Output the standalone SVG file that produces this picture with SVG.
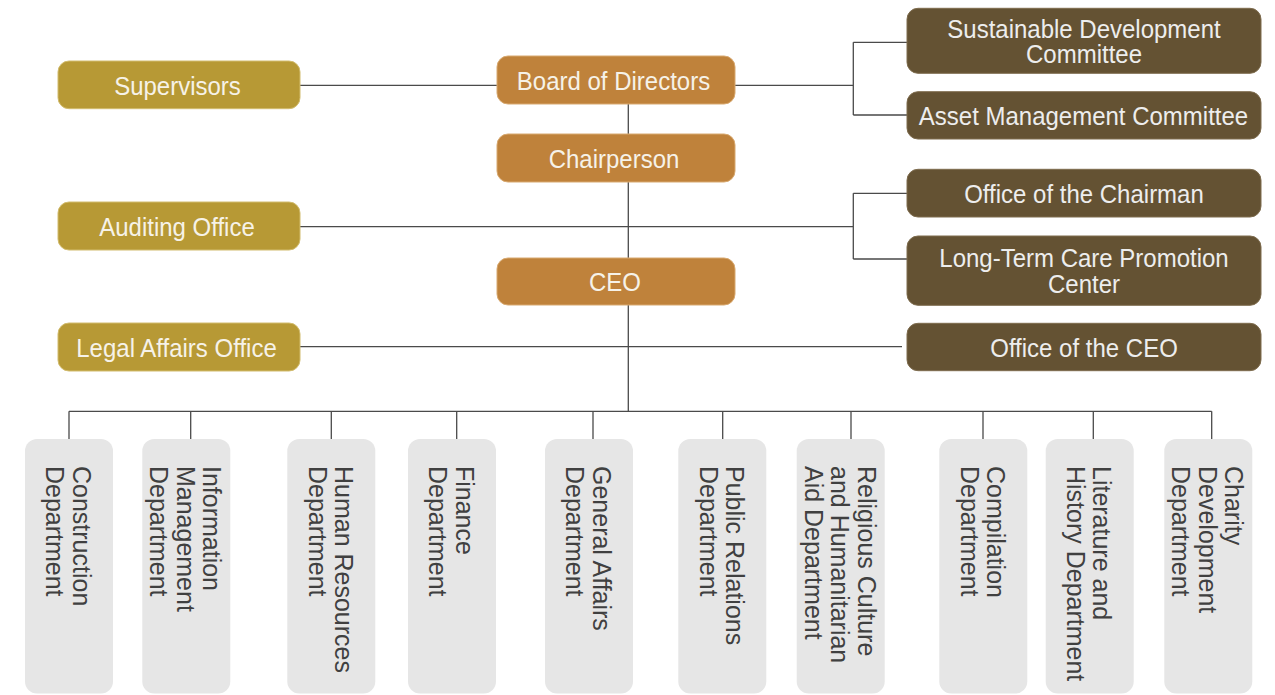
<svg xmlns="http://www.w3.org/2000/svg" width="1275" height="695" viewBox="0 0 1275 695">
<style>
.gold{fill:#B79935;stroke:#D2BC6E;stroke-width:1}
.orange{fill:#BF823B;stroke:#D8A970;stroke-width:1}
.brown{fill:#645233;stroke:#7E6C4E;stroke-width:1}
.dept{fill:#E6E6E6}
.t{font-family:"Liberation Sans",Arial,sans-serif;font-size:24px;fill:#F6F2E8;text-anchor:middle}
.tr{fill:#EDEDED}
.d{font-family:"Liberation Sans",Arial,sans-serif;font-size:25px;fill:#404040}
.c{fill:none;stroke:#4A4A4A;stroke-width:1.3}
</style>
<rect width="1275" height="695" fill="#FFFFFF"/>
<g id="connectors">
<path class="c" d="M300,85.3H497M735,85.3H853.3M853.3,42.3V115M853.3,42.3H907M853.3,115H907"/>
<path class="c" d="M628.3,104V134M628.3,182V258M628.3,305V411.3"/>
<path class="c" d="M300,226.7H853.3M853.3,193.3V259M853.3,193.3H907M853.3,259H907"/>
<path class="c" d="M300,346.7H902"/>
<path class="c" d="M69,411.3H1211.7M69,411.3V439M190.7,411.3V439M331.3,411.3V439M456.7,411.3V439M593,411.3V439M722.7,411.3V439M851,411.3V439M983,411.3V439M1093.3,411.3V439M1211.7,411.3V439"/>
</g>
<g id="supervisors"><rect class="gold" x="58" y="61" width="242" height="47.7" rx="11"/><text class="t" transform="translate(177.5,95) scale(1,1.1)">Supervisors</text></g>
<g id="auditing-office"><rect class="gold" x="58" y="202" width="242" height="48" rx="11"/><text class="t" transform="translate(177,236) scale(1,1.1)">Auditing Office</text></g>
<g id="legal-affairs-office"><rect class="gold" x="58" y="323" width="242" height="48" rx="11"/><text class="t" transform="translate(176.5,357) scale(1,1.1)">Legal Affairs Office</text></g>
<g id="board-of-directors"><rect class="orange" x="497" y="56" width="238" height="48" rx="11"/><text class="t" transform="translate(613.5,90) scale(1,1.1)">Board of Directors</text></g>
<g id="chairperson"><rect class="orange" x="497" y="134" width="238" height="48" rx="11"/><text class="t" transform="translate(614,168) scale(1,1.1)">Chairperson</text></g>
<g id="ceo"><rect class="orange" x="497" y="258" width="238" height="47" rx="11"/><text class="t" transform="translate(615,291) scale(1,1.1)">CEO</text></g>
<g id="sustainable-development-committee"><rect class="brown" x="907" y="8.3" width="354" height="65" rx="11"/><text class="t tr" transform="translate(1084,37.5) scale(1,1.06)"><tspan x="0" y="0">Sustainable Development</tspan><tspan x="0" dy="24.15">Committee</tspan></text></g>
<g id="asset-management-committee"><rect class="brown" x="907" y="91.7" width="354" height="47.3" rx="11"/><text class="t tr" transform="translate(1083.5,125.3) scale(1,1.1)">Asset Management Committee</text></g>
<g id="office-of-the-chairman"><rect class="brown" x="907" y="169.3" width="354" height="47.7" rx="11"/><text class="t tr" transform="translate(1084,203) scale(1,1.1)">Office of the Chairman</text></g>
<g id="long-term-care-promotion-center"><rect class="brown" x="907" y="236" width="354" height="69.3" rx="11"/><text class="t tr" transform="translate(1084,267.4) scale(1,1.06)"><tspan x="0" y="0">Long-Term Care Promotion</tspan><tspan x="0" dy="24.15">Center</tspan></text></g>
<g id="office-of-the-ceo"><rect class="brown" x="907" y="323.3" width="354" height="47.4" rx="11"/><text class="t tr" transform="translate(1084,357) scale(1,1.1)">Office of the CEO</text></g>
<g id="construction-department"><rect class="dept" x="25" y="439" width="88" height="254.5" rx="12"/><text class="d" transform="translate(72.75,466) rotate(90) scale(1,1.06)"><tspan x="0" y="0">Construction</tspan><tspan x="0" dy="25">Department</tspan></text></g>
<g id="information-management-department"><rect class="dept" x="142.3" y="439" width="88" height="254.5" rx="12"/><text class="d" transform="translate(203.3,466) rotate(90) scale(1,1.06)"><tspan x="0" y="0">Information</tspan><tspan x="0" dy="25">Management</tspan><tspan x="0" dy="25">Department</tspan></text></g>
<g id="human-resources-department"><rect class="dept" x="287.3" y="439" width="88" height="254.5" rx="12"/><text class="d" transform="translate(335,466) rotate(90) scale(1,1.06)"><tspan x="0" y="0">Human Resources</tspan><tspan x="0" dy="25">Department</tspan></text></g>
<g id="finance-department"><rect class="dept" x="408" y="439" width="88" height="254.5" rx="12"/><text class="d" transform="translate(455.7,466) rotate(90) scale(1,1.06)"><tspan x="0" y="0">Finance</tspan><tspan x="0" dy="25">Department</tspan></text></g>
<g id="general-affairs-department"><rect class="dept" x="545" y="439" width="88" height="254.5" rx="12"/><text class="d" transform="translate(592.7,466) rotate(90) scale(1,1.06)"><tspan x="0" y="0">General Affairs</tspan><tspan x="0" dy="25">Department</tspan></text></g>
<g id="public-relations-department"><rect class="dept" x="678.3" y="439" width="88" height="254.5" rx="12"/><text class="d" transform="translate(726,466) rotate(90) scale(1,1.06)"><tspan x="0" y="0">Public Relations</tspan><tspan x="0" dy="25">Department</tspan></text></g>
<g id="religious-culture-and-humanitarian-aid-department"><rect class="dept" x="796.7" y="439" width="88" height="254.5" rx="12"/><text class="d" transform="translate(857.5,466) rotate(90) scale(1,1.06)"><tspan x="0" y="0">Religious Culture</tspan><tspan x="0" dy="25">and Humanitarian</tspan><tspan x="0" dy="25">Aid Department</tspan></text></g>
<g id="compilation-department"><rect class="dept" x="939.3" y="439" width="88" height="254.5" rx="12"/><text class="d" transform="translate(987,466) rotate(90) scale(1,1.06)"><tspan x="0" y="0">Compilation</tspan><tspan x="0" dy="25">Department</tspan></text></g>
<g id="literature-and-history-department"><rect class="dept" x="1045.7" y="439" width="88" height="254.5" rx="12"/><text class="d" transform="translate(1093.4,466) rotate(90) scale(1,1.06)"><tspan x="0" y="0">Literature and</tspan><tspan x="0" dy="25">History Department</tspan></text></g>
<g id="charity-development-department"><rect class="dept" x="1164.3" y="439" width="88" height="254.5" rx="12"/><text class="d" transform="translate(1225.3,466) rotate(90) scale(1,1.06)"><tspan x="0" y="0">Charity</tspan><tspan x="0" dy="25">Development</tspan><tspan x="0" dy="25">Department</tspan></text></g>
</svg>
